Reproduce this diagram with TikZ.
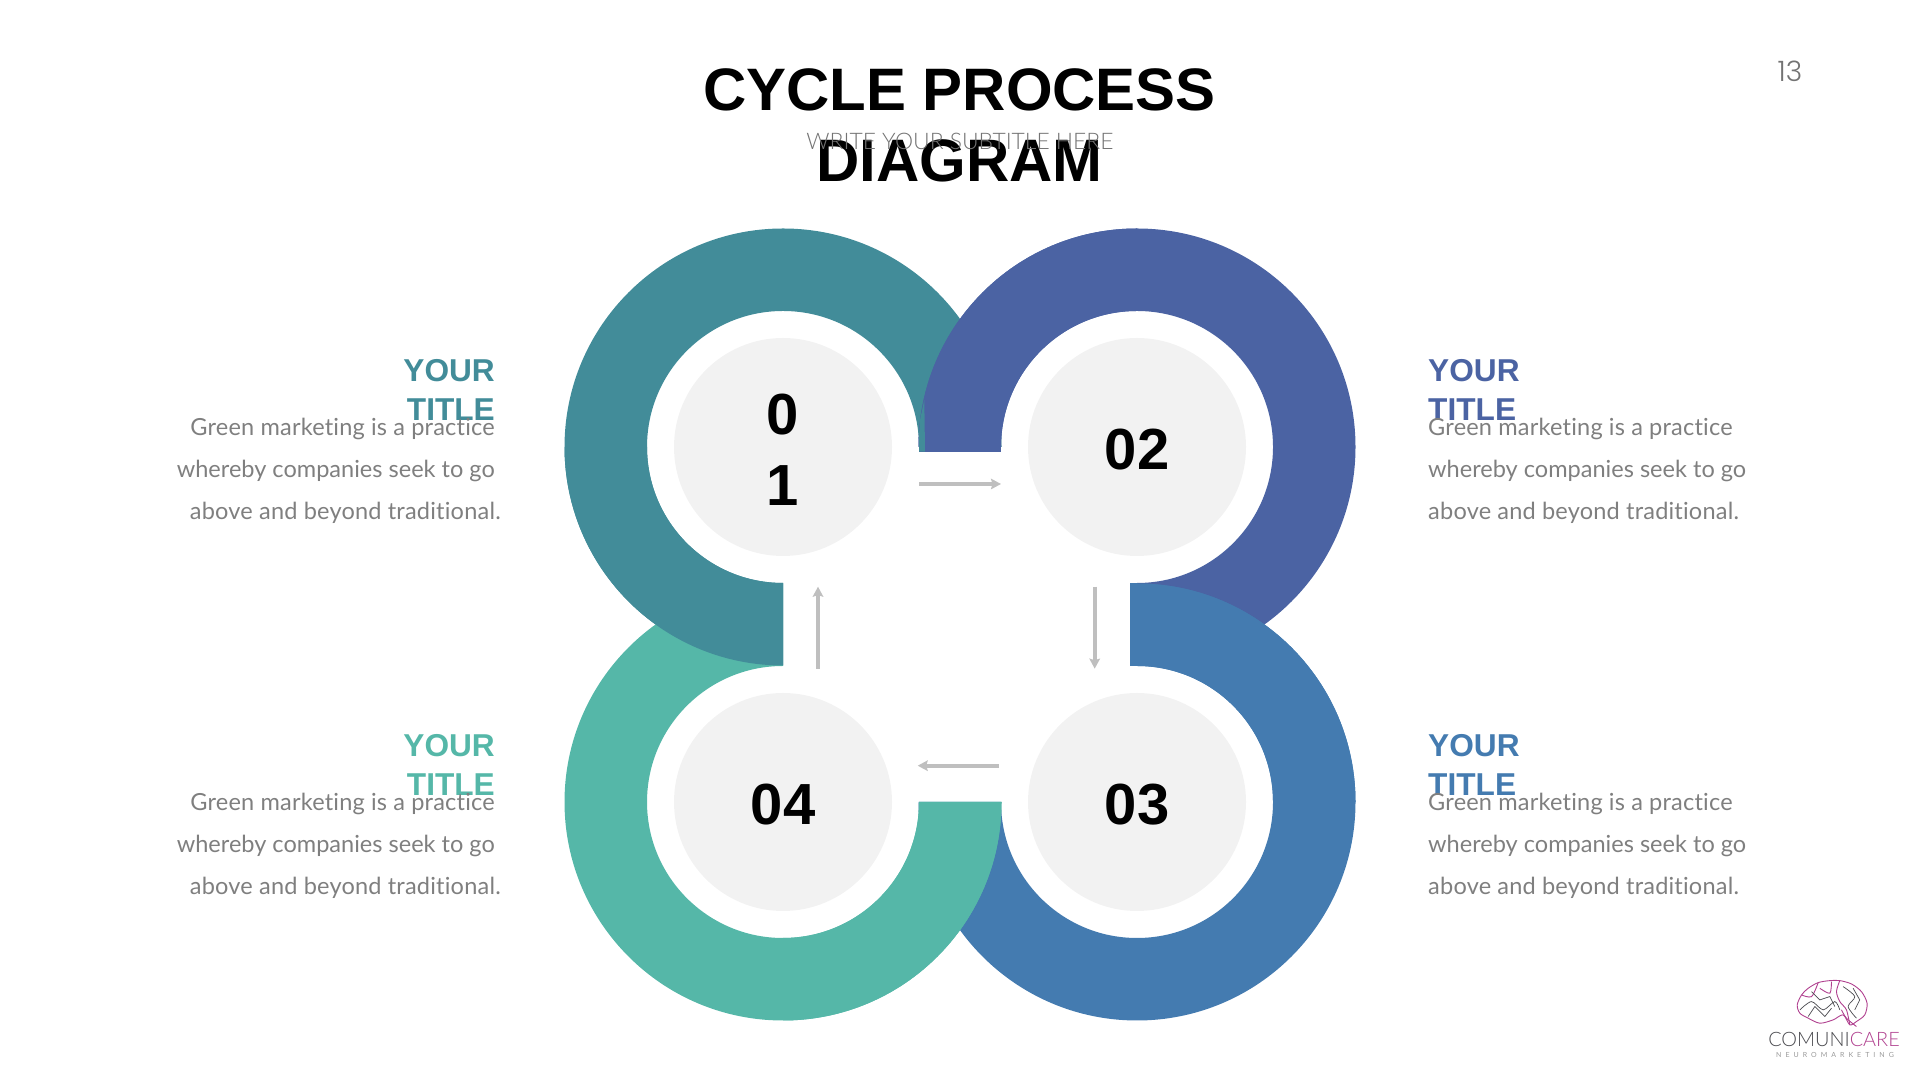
\documentclass[tikz,border=0pt]{standalone}
\usepackage{fontspec}
\setmainfont{Liberation Sans}
\newfontfamily\bodyfont[Ligatures=NoCommon]{Lato}
\newfontfamily\lightfont{Lato Light}
\newfontfamily\pagefont{Poppins Light}
\usetikzlibrary{arrows.meta,calc}
\definecolor{ringone}{HTML}{428C99}
\definecolor{ringtwo}{HTML}{4B63A3}
\definecolor{ringthree}{HTML}{447BB0}
\definecolor{ringfour}{HTML}{55B7A8}
\definecolor{discgray}{HTML}{F2F2F2}
\definecolor{arrowgray}{HTML}{BFBFBF}
\definecolor{bodygray}{HTML}{7F7F7F}
\definecolor{logopink}{HTML}{B0408F}
\definecolor{logodark}{HTML}{4A4A4F}
\newcommand{\ringarc}[4]{\fill[#2] ($(#1)+(#3:2.185)$) arc[start angle=#3,end angle=#4,radius=2.185]
  -- ($(#1)+(#4:1.36)$) arc[start angle=#4,end angle=#3,radius=1.36] -- cycle;}
\newcommand{\numstrut}{\rule{0pt}{0.46cm}}
\newcommand{\bodyloose}[1]{{\addfontfeature{LetterSpace=0.85}#1}}
\tikzset{
  numdisc/.style={circle,fill=discgray,minimum size=2.18cm,inner sep=0pt,align=center,
    font=\bfseries\fontsize{16.5}{20.2}\selectfont},
  headtext/.style={inner sep=0pt,font=\bfseries\fontsize{9}{11.1}\selectfont},
  bodytext/.style={inner sep=0pt,text=bodygray,font=\bodyfont\fontsize{6.7}{11.95}\selectfont},
  flowline/.style={arrowgray,line width=0.04cm,-{Stealth[length=0.1cm,width=0.105cm,inset=0.015cm]}},
  brainpink/.style={logopink,line width=0.009cm},
  braindark/.style={logodark,line width=0.007cm}
}
\begin{document}
\begin{tikzpicture}
  \useasboundingbox (0,0) rectangle (19.2,10.8);
  \node[inner sep=0pt,align=center,anchor=north,font=\bfseries\fontsize{17.05}{20.2}\selectfont] (maintitle)
    at (9.595,10.125) {CYCLE PROCESS\\DIAGRAM};
  \node[text=black!55,inner sep=0pt,font=\lightfont\fontsize{6.5}{8}\selectfont] (subtitle)
    at (9.6,9.39) {WRITE YOUR SUBTITLE HERE};
  \node[text=black!55,inner sep=0pt,font=\pagefont\fontsize{8}{9}\selectfont] (pagenum)
    at (17.9,10.09) {13};
  \node[numdisc] (n01) at (7.83,6.33) {\numstrut 0\\1};
  \node[numdisc] (n02) at (11.37,6.33) {\numstrut 02};
  \node[numdisc] (n03) at (11.37,2.78) {\numstrut 03};
  \node[numdisc] (n04) at (7.83,2.78) {\numstrut 04};
  % whole rings
  \ringarc{n01}{ringone}{-90}{-360}
  \ringarc{n02}{ringtwo}{180}{-90}
  \ringarc{n03}{ringthree}{90}{-180}
  \ringarc{n04}{ringfour}{0}{-270}
  % first quarters again, each lies over its neighbour
  \ringarc{n01}{ringone}{-90}{-180}
  \ringarc{n02}{ringtwo}{180}{90}
  \fill[ringtwo] (9.185,6.33) rectangle (10.01,6.283);
  \fill[ringone] (9.243,6.8) -- (9.25,6.283) -- (9.19,6.283) -- (9.19,6.45) -- (9.2,6.6) -- cycle;
  \ringarc{n03}{ringthree}{90}{0}
  \fill[ringthree] (11.295,4.14) rectangle (11.37,4.965);
  \ringarc{n04}{ringfour}{0}{-90}
  % arrows
  \coordinate (a1) at (9.19,5.96);
  \coordinate (b1) at (10.01,5.96);
  \coordinate (a2) at (10.947,4.933);
  \coordinate (b2) at (10.947,4.113);
  \coordinate (a3) at (9.99,3.143);
  \coordinate (b3) at (9.177,3.143);
  \coordinate (a4) at (8.18,4.113);
  \coordinate (b4) at (8.18,4.933);
  \draw[flowline] (a1) -- (b1);
  \draw[flowline] (a2) -- (b2);
  \draw[flowline] (a3) -- (b3);
  \draw[flowline] (a4) -- (b4);
  % left texts
  \node[headtext,text=ringone,align=right,anchor=north east] (head1) at (4.955,7.21) {YOUR\\TITLE};
  \node[bodytext,align=right,anchor=north east] (body1) at (4.955,6.63)
    {\bodyloose{Green marketing is a practice}\\whereby companies seek to go\\\bodyloose{above and beyond traditional.}\hspace*{-0.06cm}};
  \node[headtext,text=ringfour,align=right,anchor=north east] (head4) at (4.955,3.46) {YOUR\\TITLE};
  \node[bodytext,align=right,anchor=north east] (body4) at (4.955,2.88)
    {\bodyloose{Green marketing is a practice}\\whereby companies seek to go\\\bodyloose{above and beyond traditional.}\hspace*{-0.06cm}};
  % right texts
  \node[headtext,text=ringtwo,align=left,anchor=north west] (head2) at (14.275,7.21) {YOUR\\TITLE};
  \node[bodytext,align=left,anchor=north west] (body2) at (14.275,6.63)
    {\bodyloose{Green marketing is a practice}\\whereby companies seek to go\\\bodyloose{above and beyond traditional.}};
  \node[headtext,text=ringthree,align=left,anchor=north west] (head3) at (14.275,3.46) {YOUR\\TITLE};
  \node[bodytext,align=left,anchor=north west] (body3) at (14.275,2.88)
    {\bodyloose{Green marketing is a practice}\\whereby companies seek to go\\\bodyloose{above and beyond traditional.}};
  % logo
  \begin{scope}[shift={(17.4,1.2)},x=0.003333cm,y=-0.003333cm]
    \draw[brainpink] plot[smooth cycle] coordinates {(172,135) (185,105) (205,85) (235,68)
      (270,62) (300,62) (335,72) (365,95) (382,130) (375,165) (350,185) (330,195) (310,165) (280,180)
      (240,190) (205,175) (180,160)};
    \draw[brainpink] plot[smooth] coordinates {(300,62) (290,95) (300,125) (320,150) (330,195)};
    \draw[brainpink] plot[smooth] coordinates {(305,150) (320,175) (350,200)};
    \draw[brainpink] plot[smooth] coordinates {(185,105) (215,110) (235,68)};
    \draw[brainpink] plot[smooth] coordinates {(240,85) (270,100) (275,65)};
    \draw[braindark] plot[smooth] coordinates {(180,150) (215,125) (250,150) (285,125) (300,150)};
    \draw[braindark] plot[smooth] coordinates {(310,80) (345,110) (325,140) (350,175)};
    \draw[braindark] (205,170) -- (225,140) -- (255,170) -- (275,145);
    \draw[braindark] (215,95) -- (240,120) -- (270,110) -- (285,140);
    \draw[braindark] (340,85) -- (360,120) -- (345,150);
  \end{scope}
  \node[inner sep=0pt,anchor=base,font=\lightfont\fontsize{5.65}{6}\selectfont] (logoname) at (18.34,0.33)
    {\textcolor{logodark}{COMUNI}\textcolor{logopink}{CARE}};
  \node[inner sep=0pt,text=black!40,font=\bodyfont\fontsize{2}{2.4}\selectfont] (logotag) at (18.35,0.255)
    {N\hspace{0.04cm}E\hspace{0.04cm}U\hspace{0.04cm}R\hspace{0.04cm}O\hspace{0.04cm}M\hspace{0.04cm}A\hspace{0.04cm}R\hspace{0.04cm}K\hspace{0.04cm}E\hspace{0.04cm}T\hspace{0.04cm}I\hspace{0.04cm}N\hspace{0.04cm}G};
\end{tikzpicture}
\end{document}
